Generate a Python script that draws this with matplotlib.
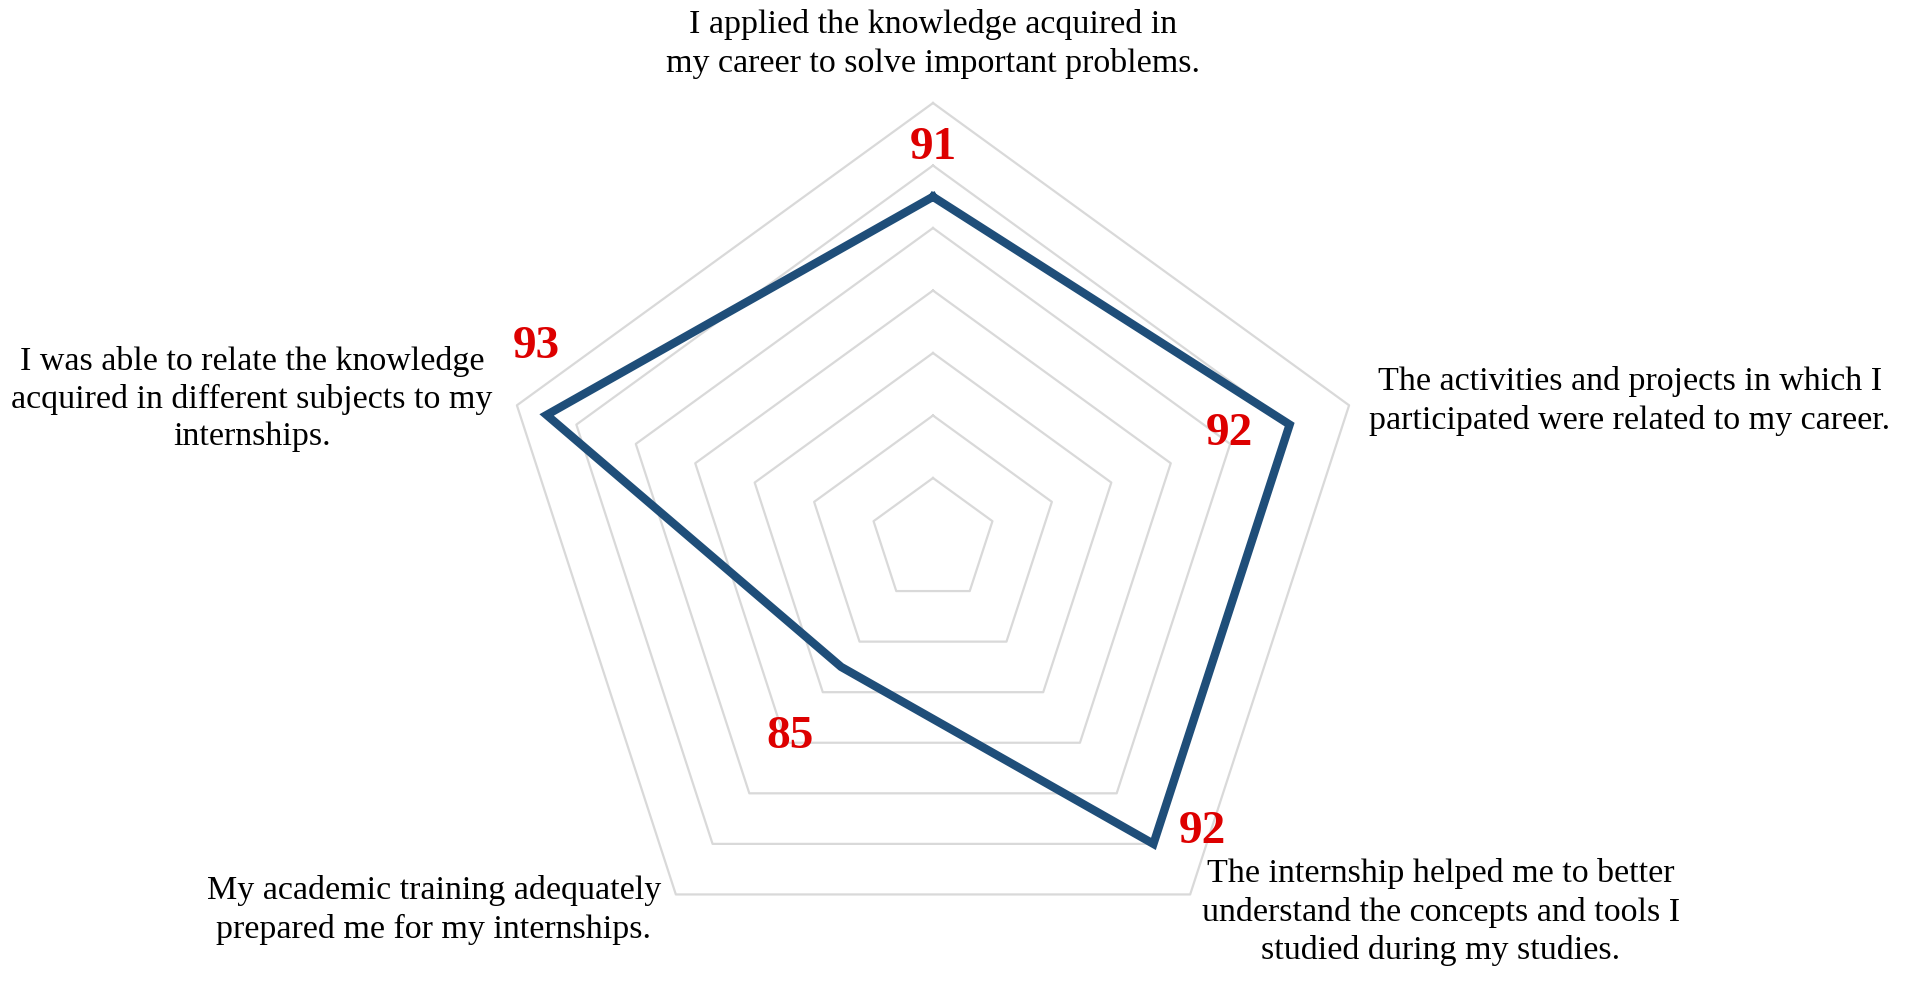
import numpy as np
import matplotlib
matplotlib.use("Agg")
import matplotlib.pyplot as plt

# Survey statements (clockwise from top) and their scores
categories = [
    "I applied the knowledge acquired in\nmy career to solve important problems.",
    "The activities and projects in which I\nparticipated were related to my career.",
    "The internship helped me to better\nunderstand the concepts and tools I\nstudied during my studies.",
    "My academic training adequately\nprepared me for my internships.",
    "I was able to relate the knowledge\nacquired in different subjects to my\ninternships.",
]
scores = [91, 92, 92, 85, 93]
value_labels = ["91", "92", "92", "85", "93"]
ring_levels = [82, 84, 86, 88, 90, 92, 94]
r_min, r_max = 80, 94

W, H = 1907, 981
fig = plt.figure(figsize=(W / 100, H / 100), dpi=100)

# polar axes centred on the chart; outer ring radius = half the axes width
cx, cy, R = 933, 540.5, 437.5
ax = fig.add_axes([(cx - R) / W, (H - cy - R) / H, 2 * R / W, 2 * R / H],
                  projection="polar")
ax.set_theta_offset(np.pi / 2)
ax.set_theta_direction(-1)
ax.set_ylim(r_min, r_max)
ax.grid(False)
ax.spines["polar"].set_visible(False)
ax.set_xticks([])
ax.set_yticks([])
ax.patch.set_alpha(0)

n = len(scores)
theta = np.linspace(0, 2 * np.pi, n, endpoint=False)
theta_closed = np.append(theta, theta[0])

# pentagon grid rings
for lvl in ring_levels:
    ax.plot(theta_closed, [lvl] * (n + 1), color="#d9d9d9", lw=1.6,
            clip_on=False, zorder=1)

# data line
ax.plot(theta_closed, scores + [scores[0]], color="#1f4e79", lw=6,
        solid_joinstyle="miter", clip_on=False, zorder=3)

# red value labels, offset from each vertex (pixels)
offsets = [(0, 49), (-60, -9), (49, 12), (-51, -70), (-10, 68)]
for t, s, lab, off in zip(theta, scores, value_labels, offsets):
    ax.annotate(lab, xy=(t, s), xytext=off, textcoords="offset pixels",
                ha="center", va="center", color="#dd0000", fontsize=34,
                fontweight="bold", family="Liberation Serif", zorder=4,
                annotation_clip=False)

# category labels around the chart
label_pos = [(933, 44), (1630, 401), (1441, 912), (434, 910), (252, 399)]
for text, (x, y) in zip(categories, label_pos):
    fig.text(x / W, 1 - y / H, text, ha="center", va="center",
             multialignment="center", fontsize=24.5, linespacing=1.3,
             family="Liberation Serif", color="black")

fig.savefig("out.png", dpi=100, facecolor="white")
